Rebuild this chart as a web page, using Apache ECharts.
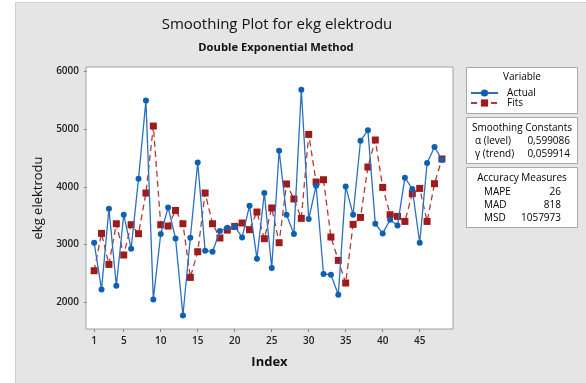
<!DOCTYPE html>
<html>
<head>
<meta charset="utf-8">
<script src="https://cdn.jsdelivr.net/npm/echarts@6/dist/echarts.min.js"></script>
<style>
  html, body { margin: 0; padding: 0; background: #ffffff; }
  #chart { width: 586px; height: 383px; }
</style>
</head>
<body>
<div id="chart"></div>
<script>
// Observation index
const indexes = [1,2,3,4,5,6,7,8,9,10,11,12,13,14,15,16,17,18,19,20,21,22,23,24,
                 25,26,27,28,29,30,31,32,33,34,35,36,37,38,39,40,41,42,43,44,45,46,47,48];
// Observed ekg elektrodu values
const actual = [3031,2222,3620,2286,3516,2927,4140,5497,2049,3182,
                3643,3106,1771,3118,4423,2893,2875,3234,3290,3314,
                3123,3673,2754,3892,2593,4626,3516,3182,5683,3442,
                4019,2489,2477,2130,4007,3516,4799,4978,3360,3193,
                3430,3331,4158,3962,3031,4413,4690,4470];
// Double exponential smoothing fits
const fits = [2546,3193,2655,3360,2818,3343,3187,3892,5053,3343,
              3320,3591,3360,2430,2875,3892,3360,3113,3250,3314,
              3373,3257,3563,3101,3633,3031,4049,3789,3453,4908,
              4083,4123,3130,2725,2333,3349,3470,4343,4811,3990,
              3516,3487,3400,3881,3972,3400,4054,4482];
const xTicks = [1,5,10,15,20,25,30,35,40,45];
const yTicks = [2000,3000,4000,5000,6000];

const smoothingRows = [['α (level)', '0,599086'], ['γ (trend)', '0,059914']];
const accuracyRows = [['MAPE', '26'], ['MAD', '818'], ['MSD', '1057973']];

const FONT = '"Open Sans", "Noto Sans", sans-serif';
const BLUE = '#1060b0';
const RED = '#9e1b1b';

const pair = arr => arr.map((v, i) => [indexes[i], v]);

function box(x, y, w, h) {
  return { type: 'rect', shape: { x: x, y: y, width: w, height: h },
           style: { fill: '#ffffff', stroke: '#a8a8a8', lineWidth: 1 }, z: 1 };
}
function txt(x, y, text, opts) {
  return { type: 'text', x: x, y: y, z: 5,
           style: Object.assign({ text: text, fill: '#000', font: '10px ' + FONT,
                                  textVerticalAlign: 'middle' }, opts || {}) };
}

const graphics = [
  { type: 'rect', shape: { x: 15.5, y: 2.5, width: 580, height: 390 },
    style: { fill: '#e5e5e5', stroke: '#cfcfcf', lineWidth: 1 }, z: -10 },
  box(466.5, 67.5, 111, 46),
  box(466.5, 117.5, 111, 46),
  box(466.5, 167.5, 111, 60),
  txt(522, 77, 'Variable', { textAlign: 'center' }),
  txt(522, 128, 'Smoothing Constants', { textAlign: 'center' }),
  txt(522, 178, 'Accuracy Measures', { textAlign: 'center' })
];
smoothingRows.forEach((r, i) => {
  graphics.push(txt(475, 141 + i * 13, r[0]));
  graphics.push(txt(570, 141 + i * 13, r[1], { textAlign: 'right' }));
});
accuracyRows.forEach((r, i) => {
  graphics.push(txt(484, 192 + i * 13, r[0]));
  graphics.push(txt(561, 192 + i * 13, r[1], { textAlign: 'right' }));
});

const chart = echarts.init(document.getElementById('chart'), null, { renderer: 'canvas' });
chart.setOption({
  backgroundColor: 'transparent',
  animation: false,
  title: [
    { text: 'Smoothing Plot for ekg elektrodu', left: 272, top: 12, textAlign: 'center',
      textStyle: { fontFamily: FONT, fontSize: 15, fontWeight: 'normal', color: '#111' } },
    { text: 'Double Exponential Method', left: 271, top: 37, textAlign: 'center',
      textStyle: { fontFamily: FONT, fontSize: 11.2, fontWeight: 'bold', color: '#111' } }
  ],
  legend: {
    orient: 'vertical', left: 465, top: 83, itemGap: 0, itemWidth: 27, itemHeight: 9,
    textStyle: { fontFamily: FONT, fontSize: 10, color: '#000', padding: [0, 0, 0, 4] },
    data: ['Actual', 'Fits'], z: 6
  },
  grid: { left: 86, top: 67, right: 133, bottom: 54, show: true,
          backgroundColor: '#ffffff', borderColor: '#a0a0a0', borderWidth: 1 },
  xAxis: {
    type: 'value', min: -0.1, max: 49.5,
    name: 'Index', nameLocation: 'middle', nameGap: 27,
    nameTextStyle: { fontFamily: FONT, fontSize: 13, fontWeight: 'bold', color: '#111' },
    axisLine: { show: false },
    axisTick: { show: true, length: 3, customValues: xTicks, lineStyle: { color: '#888' } },
    axisLabel: { customValues: xTicks, margin: 7, fontFamily: FONT, fontSize: 10,
                 fontWeight: 600, color: '#222' },
    splitLine: { show: false }
  },
  yAxis: {
    type: 'value', min: 1536, max: 6076,
    name: 'ekg elektrodu', nameLocation: 'middle', nameGap: 41,
    nameTextStyle: { fontFamily: FONT, fontSize: 13, color: '#111' },
    axisLine: { show: false },
    axisTick: { show: true, length: 3, customValues: yTicks, lineStyle: { color: '#888' } },
    axisLabel: { customValues: yTicks, margin: 7, fontFamily: FONT, fontSize: 10,
                 fontWeight: 600, color: '#222', formatter: v => String(v) },
    splitLine: { show: false }
  },
  series: [
    { name: 'Actual', type: 'line', data: pair(actual),
      symbol: 'circle', symbolSize: 6, showSymbol: true,
      lineStyle: { color: '#2a6fc0', width: 1.3 },
      itemStyle: { color: BLUE }, z: 3 },
    { name: 'Fits', type: 'line', data: pair(fits),
      symbol: 'rect', symbolSize: 7, showSymbol: true,
      lineStyle: { color: '#b03a3a', width: 1.3, type: [6, 4] },
      itemStyle: { color: RED }, z: 2 }
  ],
  graphic: graphics
});
</script>
</body>
</html>
